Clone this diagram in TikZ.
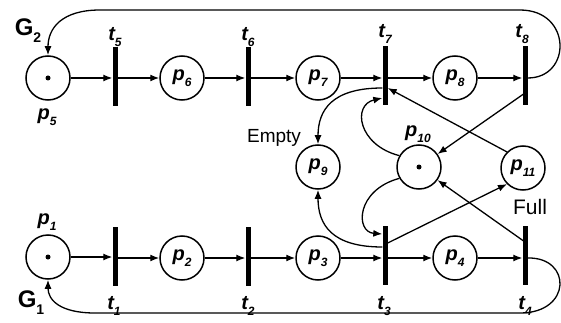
\documentclass[tikz,border=0pt]{standalone}
\usepackage{fontspec}
\setmainfont{Liberation Sans}
\usetikzlibrary{arrows.meta}
\newcommand\pl[2]{\textit{#1}\raisebox{-0.3em}{\fontsize{12}{12}\selectfont\textit{#2}}}
\begin{document}
\begin{tikzpicture}[x=1pt,y=-1pt,
  place/.style={circle,draw,line width=1.5pt,minimum size=44pt,inner sep=0pt,
    font=\fontsize{20}{20}\selectfont\bfseries\itshape},
  trans/.style={rectangle,fill=black,minimum width=5pt,minimum height=59pt,inner sep=0pt},
  arc/.style={line width=1.3pt,-{Latex[length=9pt,width=7pt]}},
  lbl/.style={font=\fontsize{20}{20}\selectfont\bfseries\itshape,inner sep=0pt},
  txt/.style={font=\fontsize{19}{19}\selectfont,inner sep=0pt},
  glbl/.style={font=\fontsize{24}{24}\selectfont\bfseries,inner sep=0pt},
  tok/.style={circle,fill=black,minimum size=5pt,inner sep=0pt}]
\useasboundingbox (0,0) rectangle (561,323);
% top row
\node[place] (p5) at (48,78) {};
\node[tok] (k5) at (p5) {};
\node[trans] (t5) at (115,77) {};
\node[place] (p6) at (182,78) {\pl p6};
\node[trans] (t6) at (248,77) {};
\node[place] (p7) at (318,78) {\pl p7};
\node[trans] (t7) at (385,76) {};
\node[place] (p8) at (455,78) {\pl p8};
\node[trans] (t8) at (525,76) {};
% bottom row
\node[place] (p1) at (48,257) {};
\node[tok] (k1) at (p1) {};
\node[trans] (t1) at (115,256) {};
\node[place] (p2) at (182,258) {\pl p2};
\node[trans] (t2) at (248,256) {};
\node[place] (p3) at (318,258) {\pl p3};
\node[trans] (t3) at (385,255) {};
\node[place] (p4) at (455,258) {\pl p4};
\node[trans] (t4) at (525,255) {};
% middle
\node[place] (p9) at (318,167) {\pl p9};
\node[place] (p10) at (419,167) {};
\node[tok] (k10) at (p10) {};
\node[place] (p11) at (523,168) {\pl p{11}};
% labels
\node[lbl] (lp5) at (47,117) {\pl p5};
\node[lbl] (lp1) at (47,222) {\pl p1};
\node[lbl] (lp10) at (418,134) {\pl p{10}};
\node[lbl] (lt5) at (115,37) {\pl t5};
\node[lbl] (lt6) at (248,37) {\pl t6};
\node[lbl] (lt7) at (385,34) {\pl t7};
\node[lbl] (lt8) at (522,34) {\pl t8};
\node[lbl] (lt1) at (114,306) {\pl t1};
\node[lbl] (lt2) at (248,306) {\pl t2};
\node[lbl] (lt3) at (384,306) {\pl t3};
\node[lbl] (lt4) at (525,306) {\pl t4};
\node[txt] (le) at (274,138) {Empty};
\node[txt,font=\fontsize{21}{21}\selectfont] (lf) at (530,207) {Full};
\node[glbl] (g2) at (28,31) {G\raisebox{-0.3em}{\fontsize{14}{14}\selectfont 2}};
\node[glbl] (g1) at (31,303) {G\raisebox{-0.3em}{\fontsize{14}{14}\selectfont 1}};
% horizontal arcs
\draw[arc] (p5.east) -- (p5.east -| t5.west);
\draw[arc] (p6.west -| t5.east) -- (p6.west);
\draw[arc] (p6.east) -- (p6.east -| t6.west);
\draw[arc] (p7.west -| t6.east) -- (p7.west);
\draw[arc] (p7.east) -- (p7.east -| t7.west);
\draw[arc] (p8.west -| t7.east) -- (p8.west);
\draw[arc] (p8.east) -- (p8.east -| t8.west);
\draw[arc] (p1.east) -- (p1.east -| t1.west);
\draw[arc] (p2.west -| t1.east) -- (p2.west);
\draw[arc] (p2.east) -- (p2.east -| t2.west);
\draw[arc] (p3.west -| t2.east) -- (p3.west);
\draw[arc] (p3.east) -- (p3.east -| t3.west);
\draw[arc] (p4.west -| t3.east) -- (p4.west);
\draw[arc] (p4.east) -- (p4.east -| t4.west);
% loops
\draw[arc] (t8.east |- p8) .. controls (572,78) and (572,10) .. (520,10) -- (100,10)
  .. controls (62,10) and (48,28) .. (p5.north);
\draw[arc] (t4.east |- p4) .. controls (572,257) and (572,313) .. (520,313) -- (95,313)
  .. controls (60,313) and (48,300) .. (p1.south);
% middle arcs
\draw[arc] ([yshift=-12pt]t7.west) .. controls (332,88) and (318,110) .. (p9.north);
\draw[arc] (p10.150) .. controls (358,145) and (352,105) .. ([yshift=-22pt]t7.west);
\draw[arc] (p11.135) -- ([yshift=-12pt]t7.east);
\draw[arc] ([yshift=-17pt]t8.center) -- (p10);
\draw[arc] (p10.210) .. controls (356,190) and (355,232) .. ([yshift=21pt]t3.west);
\draw[arc] ([yshift=8pt]t3.west) .. controls (332,247) and (318,225) .. (p9.south);
\draw[arc] ([yshift=12pt]t3.east) -- (p11.225);
\draw[arc] ([yshift=13pt]t4.center) -- (p10);
\end{tikzpicture}
\end{document}
